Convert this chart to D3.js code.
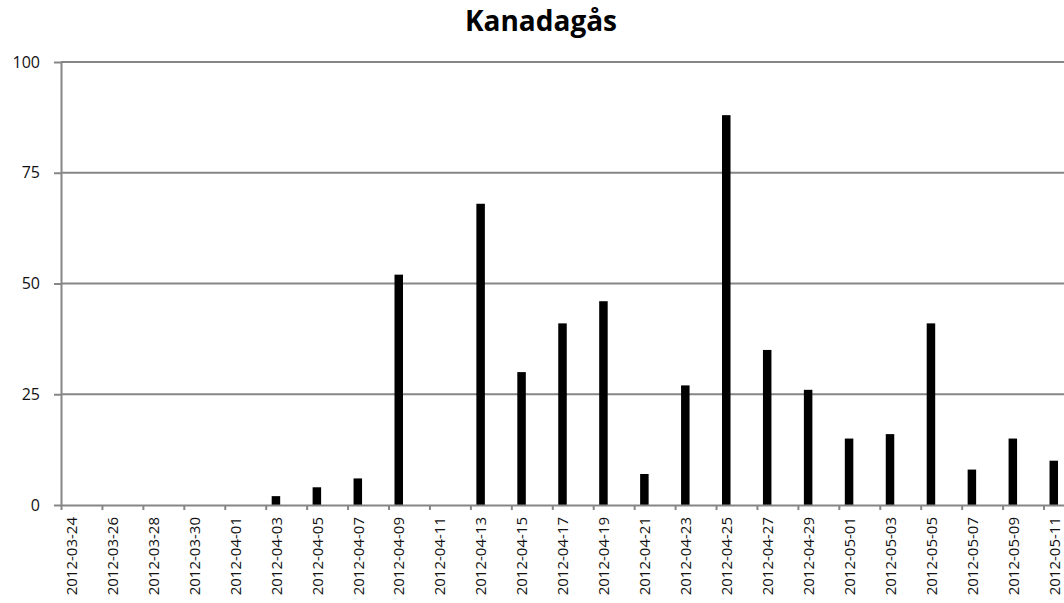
<!DOCTYPE html>
<html>
<head>
<meta charset="utf-8">
<script src="https://cdn.jsdelivr.net/npm/d3@7"></script>
<style>
  body { margin: 0; background: #fff; }
  svg { display: block; font-family: "Open Sans", sans-serif; }
  .axis path, .axis line { stroke: #868686; stroke-width: 2; }
  .axis text { fill: #111; font-size: 16px; font-family: "Open Sans", sans-serif; }
  .axis text.xlab { font-size: 15px; }
</style>
</head>
<body>
<div id="chart"></div>
<script>

// Chart data
var title = "Kanadagås";
var dates = ["2012-03-24", "2012-03-26", "2012-03-28", "2012-03-30", "2012-04-01",
    "2012-04-03", "2012-04-05", "2012-04-07", "2012-04-09", "2012-04-11",
    "2012-04-13", "2012-04-15", "2012-04-17", "2012-04-19", "2012-04-21",
    "2012-04-23", "2012-04-25", "2012-04-27", "2012-04-29", "2012-05-01",
    "2012-05-03", "2012-05-05", "2012-05-07", "2012-05-09", "2012-05-11"];
var counts = [0, 0, 0, 0, 0,
    2, 4, 6, 52, 0,
    68, 30, 41, 46, 7,
    27, 88, 35, 26, 15,
    16, 41, 8, 15, 10];
var yTicks = [0, 25, 50, 75, 100];

var width = 1064, height = 603;
var margin = { top: 62, right: 0, bottom: 98, left: 61 };

var parse = d3.utcParse("%Y-%m-%d");
var data = dates.map(function (d, i) { return { date: parse(d), value: counts[i] }; });

var svg = d3.select("#chart").append("svg")
    .attr("width", width)
    .attr("height", height);

var start = parse(dates[0]);
var end = d3.utcDay.offset(parse(dates[dates.length - 1]), 1);

var x = d3.scaleUtc()
    .domain([start, end])
    .range([margin.left, 1064]);

var y = d3.scaleLinear()
    .domain([0, 100])
    .range([height - margin.bottom, margin.top]);

// Title
svg.append("text")
    .attr("x", 541)
    .attr("y", 31)
    .attr("text-anchor", "middle")
    .style("font-size", "28px")
    .style("font-weight", "bold")
    .attr("fill", "#000")
    .text(title);

// Gridlines
svg.append("g")
    .selectAll("line")
    .data(yTicks.filter(function (d) { return d > 0; }))
    .enter().append("line")
    .attr("x1", margin.left)
    .attr("x2", width)
    .attr("y1", function (d) { return y(d); })
    .attr("y2", function (d) { return y(d); })
    .attr("stroke", "#868686")
    .attr("stroke-width", 2);

// Bars, one day slot wide, bar in middle of slot
var barW = 8.5;
svg.append("g")
    .selectAll("rect")
    .data(data)
    .enter().append("rect")
    .attr("x", function (d) {
        var c = (x(d.date) + x(d3.utcDay.offset(d.date, 1))) / 2;
        return c - barW / 2;
    })
    .attr("y", function (d) { return y(d.value); })
    .attr("width", barW)
    .attr("height", function (d) { return y(0) - y(d.value); })
    .attr("fill", "#000");

// X axis: tick marks every 2 days
var tickDates = data.map(function (d) { return d.date; });
var xAxis = d3.axisBottom(x)
    .tickValues(tickDates)
    .tickSize(5)
    .tickSizeOuter(0)
    .tickFormat("");

svg.append("g")
    .attr("class", "x-axis axis")
    .attr("transform", "translate(0," + y(0) + ")")
    .call(xAxis);

// X labels at centre of each labelled day
var fmt = d3.utcFormat("%Y-%m-%d");
var xLabels = d3.axisBottom(x)
    .tickValues(tickDates.map(function (d) { return new Date(d.getTime() + 12 * 3600 * 1000); }))
    .tickSize(0)
    .tickFormat(function (d) { return fmt(d); });

var gl = svg.append("g")
    .attr("class", "axis")
    .attr("transform", "translate(0," + y(0) + ")")
    .call(xLabels);
gl.select(".domain").remove();
gl.selectAll("text")
    .attr("class", "xlab")
    .attr("text-anchor", "end")
    .attr("transform", "rotate(-90)")
    .attr("x", -12)
    .attr("y", 0)
    .attr("dy", "0.35em");

// Y axis
var yAxis = d3.axisLeft(y)
    .tickValues(yTicks)
    .tickSize(7)
    .tickSizeOuter(0);

var gy = svg.append("g")
    .attr("class", "y-axis axis")
    .attr("transform", "translate(" + margin.left + ",0)")
    .call(yAxis);
gy.selectAll("text")
    .attr("x", -21);

</script>
</body>
</html>
